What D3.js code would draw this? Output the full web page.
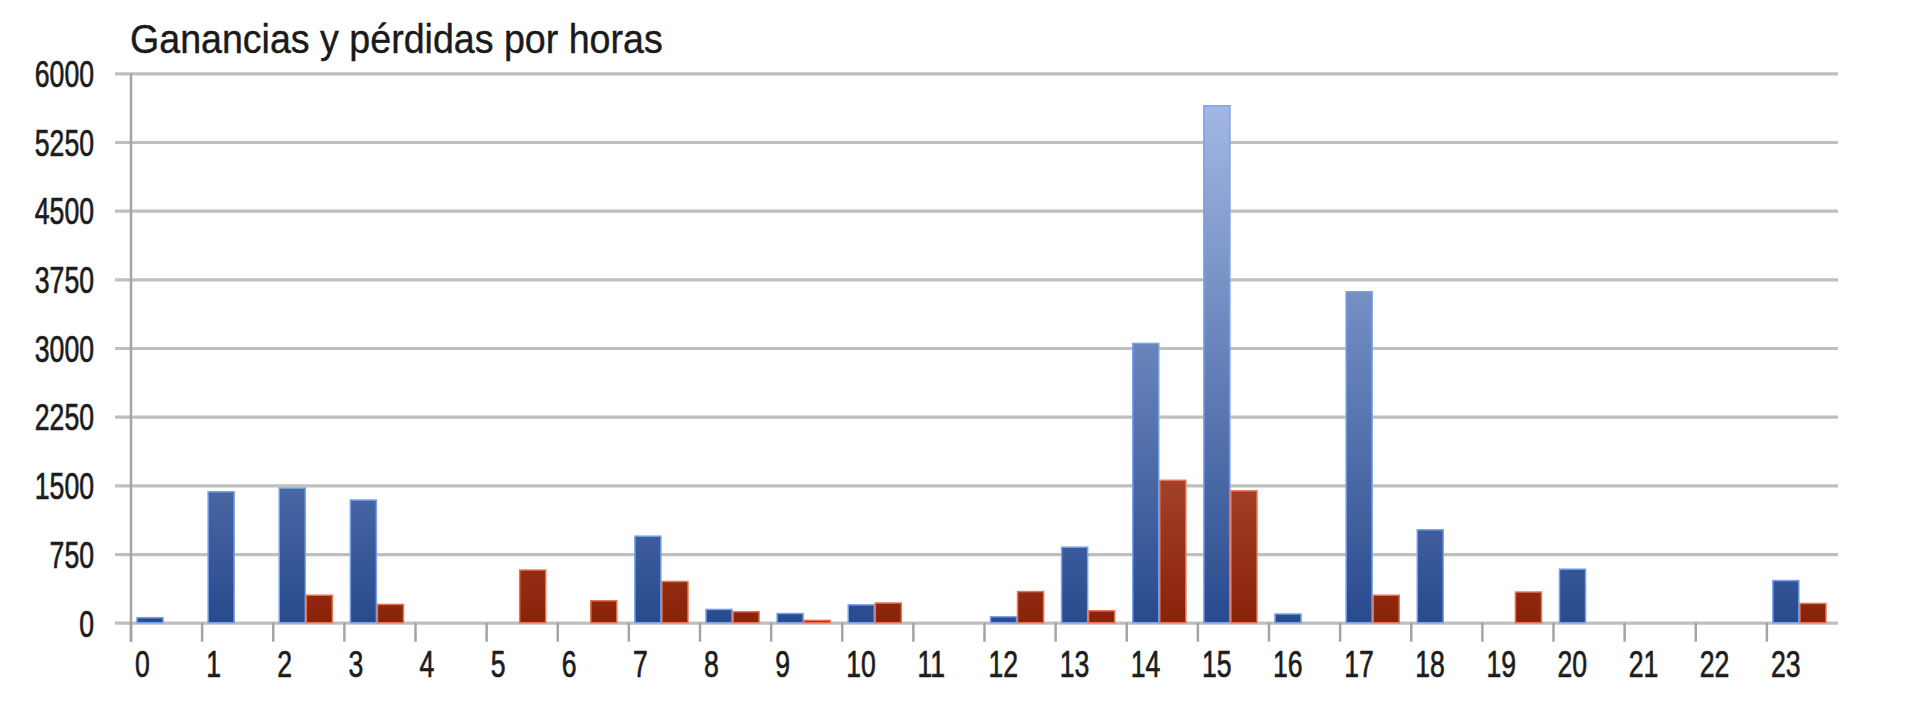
<!DOCTYPE html>
<html>
<head>
<meta charset="utf-8">
<script src="https://cdn.jsdelivr.net/npm/d3@7"></script>
<style>
  body { margin: 0; background: #ffffff; }
  svg { display: block; }
  text { font-family: "Liberation Sans", Arial, sans-serif; }
</style>
</head>
<body>
<svg id="chart" width="1920" height="720"></svg>
<script>
// ---- data ----
const chartTitle = "Ganancias y pérdidas por horas";
const hours = ["0","1","2","3","4","5","6","7","8","9","10","11","12","13","14","15","16","17","18","19","20","21","22","23"];
const seriesNames = ["Ganancias", "Pérdidas"];
const ganancias = [55, 1430, 1470, 1340, 0, 0, 0, 945, 145, 100, 195, 0, 65, 825, 3050, 5645, 95, 3615, 1015, 0, 585, 0, 0, 460];
const perdidas  = [0, 0, 300, 200, 0, 575, 240, 450, 120, 25, 215, 0, 340, 130, 1555, 1440, 0, 300, 0, 335, 0, 0, 0, 210];
const yTicks = [0, 750, 1500, 2250, 3000, 3750, 4500, 5250, 6000];

// ---- layout ----
const plotLeft = 131, plotRight = 1838, plotTop = 73.3, plotBottom = 622.7;
const gridOverhang = 16, xTickLen = 19;
const labelScaleX = 0.72, titleScaleX = 0.94;

const svg = d3.select("#chart");

const x = d3.scaleBand().domain(hours).range([plotLeft, plotRight]).padding(0);
const bw = x.bandwidth();
const xs = d3.scaleBand().domain(seriesNames).range([bw * 0.084, bw * 0.845]).padding(0);
const y = d3.scaleLinear().domain([0, 6000]).range([plotBottom, plotTop]);

// gradients (user space, light at top, dark at bottom)
const defs = svg.append("defs");
function grad(id, c1, c2) {
  const g = defs.append("linearGradient").attr("id", id)
    .attr("gradientUnits", "userSpaceOnUse")
    .attr("x1", 0).attr("x2", 0).attr("y1", plotTop).attr("y2", plotBottom);
  g.append("stop").attr("offset", "0%").attr("stop-color", c1);
  g.append("stop").attr("offset", "100%").attr("stop-color", c2);
}
grad("gBlue", "#aabee8", "#284a8e");
grad("gRed", "#e29c82", "#8a2208");

// y axis with gridlines
const yAxis = svg.append("g").attr("transform", `translate(${plotLeft},0)`)
  .call(d3.axisLeft(y).tickValues(yTicks).tickSize(gridOverhang).tickFormat(d3.format("d")));
yAxis.select(".domain").remove();
yAxis.selectAll(".tick line")
  .attr("x1", -gridOverhang).attr("x2", plotRight - plotLeft)
  .attr("stroke", "#bfbfbf").attr("stroke-width", 3.2);
yAxis.selectAll(".tick text")
  .attr("x", -37 / labelScaleX).attr("dy", "0.36em")
  .attr("transform", `scale(${labelScaleX},1)`)
  .attr("font-size", 37).attr("fill", "#1c1c1c")
  .attr("stroke", "#1c1c1c").attr("stroke-width", 0.7);

// bars
const rows = hours.map((h, i) => ({ h, vals: [ganancias[i], perdidas[i]] }));
const grp = svg.append("g").selectAll("g").data(rows).join("g")
  .attr("transform", d => `translate(${x(d.h)},0)`);
grp.selectAll("rect")
  .data(d => d.vals.map((v, k) => ({ key: seriesNames[k], v })).filter(e => e.v > 0))
  .join("rect")
  .attr("x", e => xs(e.key))
  .attr("width", xs.bandwidth() - 1)
  .attr("y", e => y(e.v))
  .attr("height", e => y(0) - y(e.v))
  .attr("fill", e => e.key === "Ganancias" ? "url(#gBlue)" : "url(#gRed)")
  .attr("stroke", e => e.key === "Ganancias" ? "#7aa2ea" : "#ea7452")
  .attr("stroke-width", 1.5);

// x axis (ticks at category boundaries, labels next to left tick)
const xAxis = svg.append("g").attr("transform", `translate(0,${plotBottom})`)
  .call(d3.axisBottom(x).tickSize(xTickLen));
xAxis.select(".domain").remove();
xAxis.selectAll(".tick line")
  .attr("x1", -bw / 2).attr("x2", -bw / 2)
  .attr("stroke", "#a4a4a4").attr("stroke-width", 2.5);
xAxis.selectAll(".tick text")
  .attr("text-anchor", "start")
  .attr("x", (-bw / 2 + 4) / labelScaleX)
  .attr("y", 54).attr("dy", 0)
  .attr("transform", `scale(${labelScaleX},1)`)
  .attr("font-size", 37).attr("fill", "#1c1c1c")
  .attr("stroke", "#1c1c1c").attr("stroke-width", 0.7);

// vertical axis line
svg.append("line")
  .attr("x1", plotLeft).attr("x2", plotLeft)
  .attr("y1", y(6000)).attr("y2", plotBottom + xTickLen)
  .attr("stroke", "#a4a4a4").attr("stroke-width", 2.5);

// title
svg.append("text")
  .attr("transform", `translate(130,52.7) scale(${titleScaleX},1)`)
  .attr("font-size", 40).attr("fill", "#1a1a1a")
  .attr("stroke", "#1a1a1a").attr("stroke-width", 0.4)
  .text(chartTitle);
</script>
</body>
</html>
